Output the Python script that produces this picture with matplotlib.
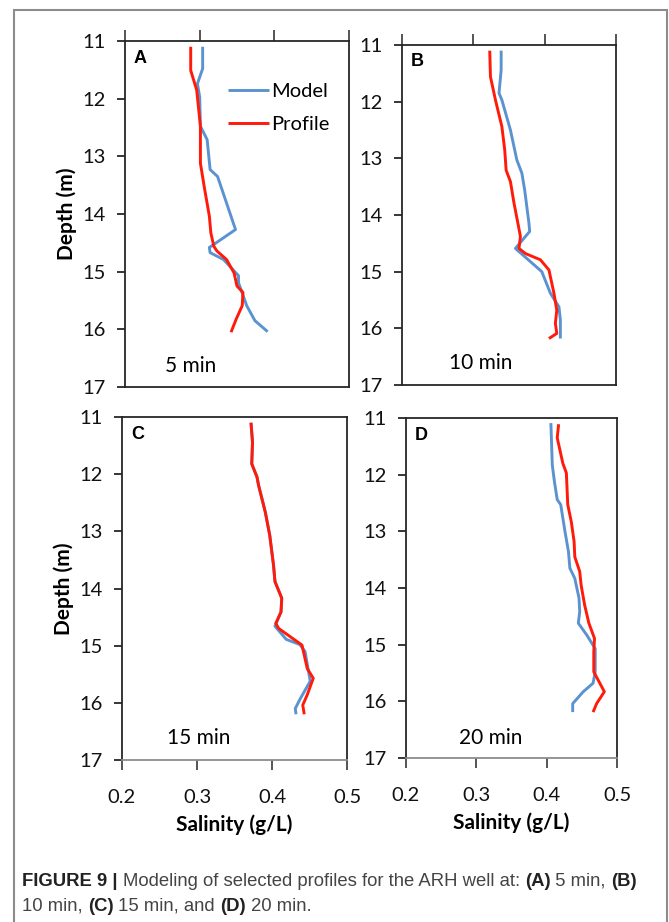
import matplotlib
matplotlib.use("Agg")
import matplotlib.pyplot as plt
from matplotlib.patches import Rectangle

# panel A, 5 min
a_model_sal = [0.304, 0.304, 0.297, 0.300, 0.301, 0.310, 0.314, 0.324, 0.348, 0.313, 0.314, 0.332, 0.352, 0.352, 0.363, 0.374, 0.391]
a_model_dep = [11.10, 11.48, 11.74, 11.97, 12.48, 12.71, 13.23, 13.35, 14.27, 14.58, 14.67, 14.79, 15.07, 15.19, 15.59, 15.85, 16.04]
a_prof_sal = [0.288, 0.288, 0.296, 0.301, 0.301, 0.306, 0.313, 0.315, 0.319, 0.323, 0.336, 0.346, 0.350, 0.358, 0.357, 0.349, 0.342]
a_prof_dep = [11.10, 11.51, 11.85, 12.48, 13.12, 13.52, 14.04, 14.33, 14.56, 14.64, 14.79, 15.02, 15.25, 15.36, 15.59, 15.82, 16.05]

# panel B, 10 min
b_model_sal = [0.339, 0.339, 0.336, 0.340, 0.352, 0.361, 0.368, 0.372, 0.378, 0.379, 0.359, 0.396, 0.408, 0.420, 0.422, 0.422]
b_model_dep = [11.10, 11.44, 11.85, 11.97, 12.50, 13.03, 13.26, 13.56, 14.15, 14.29, 14.59, 15.00, 15.38, 15.62, 15.85, 16.18]
b_prof_sal = [0.323, 0.324, 0.331, 0.340, 0.344, 0.346, 0.352, 0.357, 0.363, 0.366, 0.364, 0.373, 0.394, 0.406, 0.413, 0.417, 0.415, 0.417, 0.406]
b_prof_dep = [11.10, 11.56, 11.97, 12.44, 12.85, 13.21, 13.41, 13.79, 14.18, 14.38, 14.59, 14.68, 14.79, 14.97, 15.38, 15.68, 15.91, 16.09, 16.18]

# panel C, 15 min
c_model_sal = [0.372, 0.374, 0.373, 0.380, 0.382, 0.391, 0.397, 0.402, 0.404, 0.413, 0.412, 0.404, 0.419, 0.437, 0.444, 0.451, 0.438, 0.431, 0.432]
c_model_dep = [11.10, 11.44, 11.82, 12.05, 12.19, 12.66, 13.07, 13.59, 13.88, 14.17, 14.41, 14.66, 14.89, 14.98, 15.10, 15.62, 15.92, 16.10, 16.20]
c_prof_sal = [0.372, 0.374, 0.373, 0.380, 0.382, 0.391, 0.397, 0.402, 0.404, 0.413, 0.412, 0.405, 0.409, 0.424, 0.440, 0.447, 0.455, 0.447, 0.441, 0.443]
c_prof_dep = [11.10, 11.44, 11.82, 12.05, 12.19, 12.66, 13.07, 13.59, 13.88, 14.17, 14.41, 14.61, 14.70, 14.84, 14.99, 15.40, 15.57, 15.86, 16.04, 16.20]

# panel D, 20 min
d_model_sal = [0.406, 0.408, 0.411, 0.415, 0.420, 0.426, 0.431, 0.433, 0.440, 0.446, 0.447, 0.445, 0.457, 0.469, 0.469, 0.466, 0.452, 0.437, 0.437]
d_model_dep = [11.09, 11.83, 12.12, 12.44, 12.53, 13.00, 13.36, 13.65, 13.83, 14.18, 14.42, 14.62, 14.83, 15.07, 15.48, 15.68, 15.83, 16.04, 16.19]
d_prof_sal = [0.417, 0.415, 0.423, 0.428, 0.430, 0.435, 0.439, 0.440, 0.447, 0.449, 0.454, 0.460, 0.468, 0.467, 0.467, 0.473, 0.482, 0.471, 0.466]
d_prof_dep = [11.11, 11.35, 11.80, 11.97, 12.53, 12.83, 13.18, 13.45, 13.71, 13.95, 14.30, 14.62, 14.89, 15.12, 15.48, 15.62, 15.83, 16.04, 16.19]

panel_letters = ["A", "B", "C", "D"]
panel_times = ["5 min", "10 min", "15 min", "20 min"]
depth_ticks = [11, 12, 13, 14, 15, 16, 17]
sal_ticks = [0.2, 0.3, 0.4, 0.5]
sal_tick_labels = ["0.2", "0.3", "0.4", "0.5"]

W, H = 669, 922
BLUE = "#5b93d0"
RED = "#ff1a0a"
DARK = "#262626"
GRAY = "#8c8c8c"
FONT = ["Lato", "DejaVu Sans"]
CAP_FONT = ["Liberation Sans Narrow", "Liberation Sans", "DejaVu Sans"]


def box(left, top, right, bottom):
    return [left / W, 1 - bottom / H, (right - left) / W, (bottom - top) / H]


def setup(ax, top_axis):
    ax.set_xlim(0.2, 0.5)
    ax.set_ylim(17, 11)
    ax.set_yticks(depth_ticks)
    ax.set_yticklabels([str(t) for t in depth_ticks], fontsize=14.5, family=FONT, color="#111111")
    ax.set_xticks(sal_ticks)
    for side in ["left", "right", "top", "bottom"]:
        ax.spines[side].set_color(DARK)
        ax.spines[side].set_linewidth(1.3)
    ax.tick_params(axis="y", direction="out", length=6, width=1.3, color=DARK, pad=8)
    if top_axis:
        ax.xaxis.tick_top()
        ax.tick_params(axis="x", direction="out", length=8, width=1.1, color=DARK, labeltop=False)
    else:
        ax.set_xticklabels(sal_tick_labels, fontsize=14.5, family=FONT, color="#111111")
        ax.tick_params(axis="x", direction="out", length=7, width=1.1, color=DARK, pad=14)
        ax.spines["bottom"].set_color(GRAY)


fig = plt.figure(figsize=(W / 100, H / 100), dpi=100)
fig.patches.append(Rectangle((14 / W, -0.01), (667 - 14) / W, 1 - 10 / H + 0.01,
                             transform=fig.transFigure, fill=False, edgecolor=GRAY, linewidth=1.5))

boxes = [box(125, 41, 349, 387), box(402, 45, 616, 385), box(122, 417, 347, 760), box(406, 418, 617, 758)]
data = [
    (a_model_sal, a_model_dep, a_prof_sal, a_prof_dep),
    (b_model_sal, b_model_dep, b_prof_sal, b_prof_dep),
    (c_model_sal, c_model_dep, c_prof_sal, c_prof_dep),
    (d_model_sal, d_model_dep, d_prof_sal, d_prof_dep),
]
time_pos = [(0.18, 0.06), (0.22, 0.065), (0.20, 0.065), (0.25, 0.06)]

axes = []
for i, (rect, (ms, md, ps, pd)) in enumerate(zip(boxes, data)):
    ax = fig.add_axes(rect)
    setup(ax, top_axis=i < 2)
    ax.plot(ms, md, color=BLUE, linewidth=2.1, label="Model", solid_capstyle="butt")
    ax.plot(ps, pd, color=RED, linewidth=2.1, label="Profile", solid_capstyle="butt")
    ax.text(0.04, 0.975, panel_letters[i], transform=ax.transAxes, fontsize=13, fontweight="bold",
            family=["Liberation Sans", "DejaVu Sans"], va="top", ha="left")
    tx, ty = time_pos[i]
    ax.text(tx, ty, panel_times[i], transform=ax.transAxes, fontsize=15, family=FONT, va="center", ha="left")
    if i == 0:
        ax.legend(loc="upper left", bbox_to_anchor=(0.38, 0.93), frameon=False,
                  handlelength=2.0, handletextpad=0.15, labelspacing=0.75, prop={"family": FONT, "size": 14.5})
    axes.append(ax)

for ax in (axes[0], axes[2]):
    ax.set_ylabel("Depth (m)", fontsize=15, fontweight="bold", family=FONT, labelpad=4)
for ax in (axes[2], axes[3]):
    ax.set_xlabel("Salinity (g/L)", fontsize=15, fontweight="bold", family=FONT, labelpad=6)

# caption, bold and regular pieces placed one after the other
fig.canvas.draw()
renderer = fig.canvas.get_renderer()
lines = [
    [("FIGURE 9 | ", "bold"), ("Modeling of selected profiles for the ARH well at: ", "normal"),
     ("(A)", "bold"), (" 5 min, ", "normal"), ("(B)", "bold")],
    [("10 min, ", "normal"), ("(C)", "bold"), (" 15 min, and ", "normal"), ("(D)", "bold"), (" 20 min.", "normal")],
]
for row, pieces in enumerate(lines):
    x = 22
    y = 881 + 25 * row
    for txt, weight in pieces:
        t = fig.text(x / W, 1 - y / H, txt, fontsize=13.3, fontweight=weight, family=CAP_FONT,
                     color="#222222" if weight == "bold" else "#444444", va="center", ha="left")
        bb = t.get_window_extent(renderer)
        x += bb.width

fig.savefig("out.png", dpi=100)
